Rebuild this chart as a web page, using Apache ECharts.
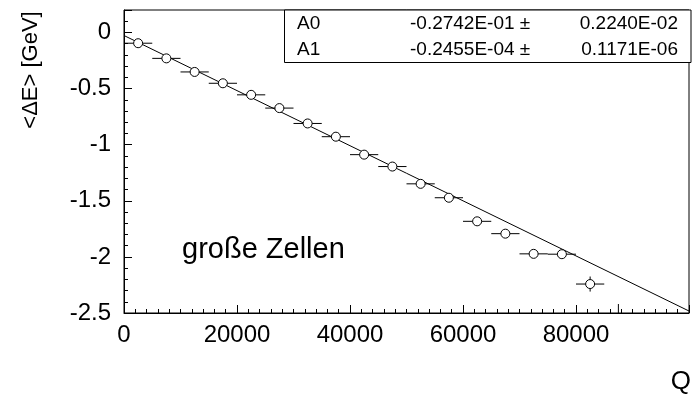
<!DOCTYPE html>
<html>
<head>
<meta charset="utf-8">
<script src="https://cdn.jsdelivr.net/npm/echarts@6/dist/echarts.min.js"></script>
<style>
  html, body { margin: 0; padding: 0; background: #fff; }
  #chart { width: 692px; height: 394px; }
</style>
</head>
<body>
<div id="chart"></div>
<script>
// Mean energy loss per bin of Q (bin centres, half widths, means, errors)
const qCenters = [2500, 7500, 12500, 17500, 22500, 27500, 32500, 37500, 42500,
                  47500, 52500, 57500, 62500, 67500, 72500, 77500, 82500, 87500];
const qHalfWidth = [2500, 2500, 2500, 2500, 2500, 2500, 2500, 2500, 2500,
                    2500, 2500, 2500, 2500, 2500, 2500, 2500, 2500, 2500];
const meanDE = [-0.096, -0.231, -0.352, -0.453, -0.556, -0.674, -0.811, -0.929, -1.089,
                -1.195, -1.349, -1.473, -1.683, -1.793, -1.973, -1.976, -2.242, -2.53];
const meanDEErr = [0.012, 0.012, 0.013, 0.013, 0.014, 0.015, 0.016, 0.017, 0.018,
                   0.019, 0.02, 0.022, 0.024, 0.026, 0.028, 0.03, 0.067, 0.11];

// Linear fit  <dE> = A0 + A1 * Q
const fitParamNames = ['A0', 'A1'];
const fitValues = [-0.2742E-01, -0.2455E-04];
const fitErrors = [0.2240E-02, 0.1171E-06];

// Axis tick labels
const xTickLabels = ['0', '20000', '40000', '60000', '80000', ''];
const yTickLabels = ['-2.5', '-2', '-1.5', '-1', '-0.5', '0'];

const X_MIN = 0, X_MAX = 100000, X_STEP = 20000;
const Y_MIN = -2.5, Y_MAX = 0.2, Y_STEP = 0.5;

const FONT = '"Liberation Sans", Arial, Helvetica, sans-serif';

// FORTRAN-style number, e.g. -0.2742E-01
function fortranExp(v) {
  if (v === 0) return '0.0000E+00';
  const sign = v < 0 ? '-' : '';
  const a = Math.abs(v);
  let e = Math.floor(Math.log10(a)) + 1;
  let m = a / Math.pow(10, e);
  if (Number(m.toFixed(4)) >= 1) { m /= 10; e += 1; }
  const es = (e < 0 ? '-' : '+') + String(Math.abs(e)).padStart(2, '0');
  return sign + m.toFixed(4) + 'E' + es;
}

const points = qCenters.map((q, i) => [q, meanDE[i], qHalfWidth[i], meanDEErr[i]]);
const fitLine = [X_MIN, X_MAX].map(q => [q, fitValues[0] + fitValues[1] * q]);

function renderErrorBars(params, api) {
  const x = api.value(0), y = api.value(1), ex = api.value(2), ey = api.value(3);
  const l = api.coord([x - ex, y]), r = api.coord([x + ex, y]);
  const t = api.coord([x, y + ey]), b = api.coord([x, y - ey]);
  const style = { stroke: '#000', lineWidth: 1 };
  return {
    type: 'group',
    children: [
      { type: 'line', shape: { x1: l[0], y1: l[1], x2: r[0], y2: r[1] }, style },
      { type: 'line', shape: { x1: t[0], y1: t[1], x2: b[0], y2: b[1] }, style }
    ]
  };
}

// Fit-statistics box
const boxLeft = 284.5, boxTop = 10, boxRight = 691, rowH = 26.25;
const statElements = [{
  type: 'rect',
  shape: { x: boxLeft, y: boxTop, width: boxRight - boxLeft, height: rowH * 2 },
  style: { fill: '#fff', stroke: '#000', lineWidth: 1 },
  z: 100
}];
fitParamNames.forEach((name, i) => {
  const yMid = boxTop + rowH * (i + 0.5) + 0.5;
  const base = { fill: '#000', font: '19px ' + FONT, textVerticalAlign: 'middle' };
  statElements.push(
    { type: 'text', x: 297, y: yMid, z: 101, style: Object.assign({ text: name, textAlign: 'left' }, base) },
    { type: 'text', x: 410, y: yMid, z: 101, style: Object.assign({ text: fortranExp(fitValues[i]) + ' \u00B1', textAlign: 'left' }, base) },
    { type: 'text', x: 678, y: yMid, z: 101, style: Object.assign({ text: fortranExp(fitErrors[i]), textAlign: 'right' }, base) }
  );
});

const chart = echarts.init(document.getElementById('chart'), null, { renderer: 'canvas' });
chart.setOption({
  animation: false,
  backgroundColor: '#fff',
  grid: { left: 124, right: 0, top: 10, bottom: 81, show: true, borderColor: '#000', borderWidth: 1, backgroundColor: 'transparent' },
  xAxis: {
    type: 'value', min: X_MIN, max: X_MAX, interval: X_STEP,
    axisLine: { onZero: false, lineStyle: { color: '#000', width: 1 } },
    axisTick: { inside: true, length: 8, lineStyle: { color: '#000' } },
    minorTick: { show: true, splitNumber: 10, length: 4, lineStyle: { color: '#000' } },
    splitLine: { show: false },
    axisLabel: {
      color: '#000', fontSize: 24, fontFamily: FONT, margin: 10,
      formatter: v => xTickLabels[Math.round((v - X_MIN) / X_STEP)] || ''
    }
  },
  yAxis: {
    type: 'value', min: Y_MIN, max: Y_MAX, interval: Y_STEP,
    axisLine: { onZero: false, lineStyle: { color: '#000', width: 1 } },
    axisTick: { inside: true, length: 8, lineStyle: { color: '#000' } },
    minorTick: { show: true, splitNumber: 5, length: 4, lineStyle: { color: '#000' } },
    splitLine: { show: false },
    axisLabel: {
      color: '#000', fontSize: 24, fontFamily: FONT, margin: 13,
      formatter: v => {
        const k = (v - Y_MIN) / Y_STEP;
        return Math.abs(k - Math.round(k)) < 1e-6 ? (yTickLabels[Math.round(k)] || '') : '';
      }
    }
  },
  series: [
    {
      type: 'line', data: fitLine, symbol: 'none', clip: true,
      lineStyle: { color: '#000', width: 1 }, z: 2, silent: true
    },
    {
      type: 'custom', data: points, renderItem: renderErrorBars, clip: true, z: 3, silent: true
    },
    {
      type: 'scatter', data: points.map(p => [p[0], p[1]]), symbol: 'circle', symbolSize: 9, clip: true,
      itemStyle: { color: '#fff', borderColor: '#000', borderWidth: 1, opacity: 1 }, z: 4, silent: true
    }
  ],
  graphic: [
    {
      type: 'text', x: 31, y: 70, rotation: Math.PI / 2,
      style: { text: '<\u0394E> [GeV]', fill: '#000', font: '22px ' + FONT, textAlign: 'center', textVerticalAlign: 'middle' }
    },
    {
      type: 'text', x: 691, y: 382,
      style: { text: 'Q', fill: '#000', font: '26px ' + FONT, textAlign: 'right', textVerticalAlign: 'middle' }
    },
    {
      type: 'text', x: 182, y: 250,
      style: { text: 'große Zellen', fill: '#000', font: '29px ' + FONT, textAlign: 'left', textVerticalAlign: 'middle' }
    }
  ].concat(statElements)
});
</script>
</body>
</html>
